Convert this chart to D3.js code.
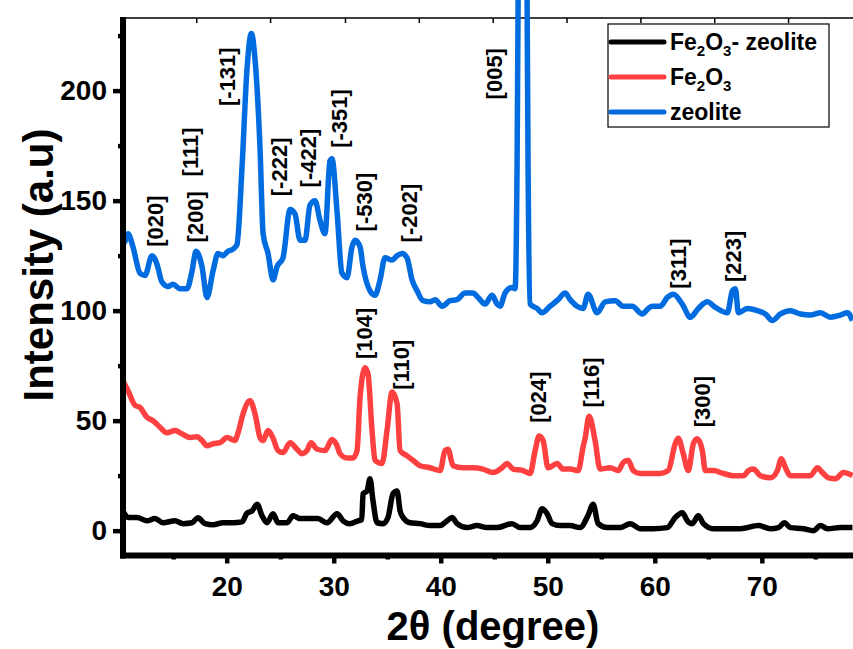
<!DOCTYPE html>
<html lang="en">
<head>
<meta charset="UTF-8">
<title>XRD patterns</title>
<script src="https://cdnjs.cloudflare.com/ajax/libs/d3/7.8.4/d3.min.js"></script>
<style>
    body { margin: 0; background: #fff; }
    svg { display: block; font-family: Arial, "Liberation Sans", sans-serif; }
</style>
</head>
<body>
<svg width="853" height="649"></svg>
<script>
// [2theta, intensity]
const fe2o3Zeolite = [
    [10.31, 9], [10.78, 6], [11.62, 6], [12.55, 4.5], [13.30, 5.5], [14.05, 3.6], [15.17, 4.5],
    [15.92, 3.2], [16.76, 3.6], [17.32, 5.9], [17.97, 3.2], [18.72, 2.7], [19.65, 3.6], [20.59, 3.6],
    [21.43, 4], [21.90, 8], [22.37, 9], [22.84, 12], [23.30, 6.8], [23.77, 3.6], [24.33, 7.7],
    [24.80, 3.6], [25.64, 3.6], [26.20, 6.8], [26.85, 5.5], [27.78, 5.5], [28.53, 5.5], [29.37, 3.6],
    [30.31, 7.7], [30.87, 4.5], [31.52, 3.2], [32.27, 4.5], [32.62, 5], [32.74, 16.8], [33.11, 18],
    [33.39, 23.6], [33.67, 13.6], [34.05, 3.6], [34.61, 3.2], [35.07, 6], [35.54, 16.8], [35.92, 18],
    [36.20, 9], [36.48, 6], [37.13, 3.6], [38.07, 3.2], [39.00, 2.3], [39.94, 2.3], [40.59, 4.5],
    [41.06, 6], [41.52, 3.2], [42.46, 1.4], [43.39, 2.3], [44.33, 1.4], [45.26, 1.4], [46.66, 3.2],
    [47.41, 1.4], [48.35, 1.4], [49.00, 4.5], [49.47, 10], [49.94, 7.7], [50.41, 3.2], [51.15, 2.3],
    [52.09, 2.3], [53.02, 1.4], [53.77, 7], [54.24, 12], [54.71, 3.2], [55.55, 1.4], [56.77, 1.4],
    [57.70, 3.2], [58.64, 0.9], [59.86, 0.9], [61.17, 1.4], [61.91, 6], [62.57, 8.2], [63.04, 4.5],
    [63.50, 3.2], [64.07, 6.8], [64.54, 3.2], [65.47, 0.9], [66.78, 0.9], [68.00, 0.9], [69.68, 2.3],
    [70.80, 0.9], [71.55, 1.4], [72.11, 3.6], [72.67, 1.4], [73.89, 0.9], [74.82, 0], [75.48, 2.3],
    [76.13, 0.9], [77.35, 1.4], [78.47, 1.4]
];

const fe2o3 = [
    [10.31, 68], [10.78, 63.6], [11.43, 57], [11.90, 56], [12.55, 51.5], [13.11, 50], [13.77, 47],
    [14.42, 44.5], [15.17, 45.5], [15.82, 44], [16.58, 42.3], [17.22, 42.7], [17.69, 41], [18.16, 38.6],
    [18.72, 39.5], [19.37, 40], [20.03, 42.3], [20.77, 41], [21.06, 44.5], [21.52, 53], [22.18, 59],
    [22.65, 53], [23.12, 42.3], [23.40, 41], [23.86, 45.5], [24.33, 42], [24.80, 36.4], [25.26, 35.5],
    [25.92, 40], [26.57, 37], [27.04, 35], [27.50, 36.4], [27.88, 40], [28.44, 37], [29.18, 36.4],
    [29.84, 41.4], [30.31, 38.6], [30.59, 35], [31.24, 33], [31.80, 33], [32.18, 36.4], [32.46, 60.5],
    [32.93, 74], [33.21, 71], [33.58, 45.5], [33.86, 32], [34.51, 30.5], [34.98, 45.5], [35.45, 63],
    [35.92, 57.7], [36.20, 36.4], [36.85, 34], [37.41, 32], [38.07, 29.5], [39.00, 28.6], [39.94, 27.3],
    [40.40, 36.4], [40.68, 37], [41.15, 29.5], [42.08, 28.6], [43.02, 28.6], [43.95, 28], [44.89, 26.4],
    [45.73, 28.6], [46.20, 30.5], [46.76, 28], [47.69, 27.3], [48.35, 26], [48.82, 36.4], [49.19, 43],
    [49.56, 41], [50.03, 28.6], [50.87, 30.5], [51.43, 28], [52.09, 28], [52.84, 27.3], [53.30, 38],
    [53.49, 42], [53.86, 52], [54.42, 41], [54.89, 28], [55.83, 28.6], [56.58, 27.3], [57.05, 31],
    [57.51, 32], [57.99, 27.3], [58.64, 26], [59.58, 26], [60.51, 26], [61.26, 27.3], [61.91, 39.5],
    [62.19, 42], [62.66, 35], [63.13, 27.3], [63.60, 39.5], [63.97, 41.8], [64.44, 36.4], [64.72, 27.3],
    [65.47, 27.3], [66.41, 26], [67.34, 25], [68.28, 25], [68.75, 27.3], [69.21, 28], [69.87, 25],
    [70.80, 24], [71.45, 27.3], [71.83, 32.7], [72.21, 28.6], [72.67, 25], [73.61, 25], [74.54, 25],
    [75.20, 28.6], [75.66, 26.4], [76.22, 24], [76.88, 23.6], [77.63, 26.4], [78.47, 25]
];

const zeolite = [
    [10.31, 140], [10.45, 131], [10.78, 135], [11.24, 129], [11.90, 117], [12.36, 116], [13.02, 125],
    [13.49, 121], [13.95, 113], [14.51, 111], [14.98, 112], [15.64, 110], [16.29, 110], [16.76, 118],
    [17.13, 127], [17.69, 120], [18.16, 106], [18.72, 118], [19.19, 126], [19.65, 125], [20.12, 127],
    [20.59, 128], [20.96, 130], [21.43, 165], [21.90, 210], [22.30, 226], [22.65, 214], [23.12, 173],
    [23.40, 135], [23.86, 126], [24.33, 114], [24.70, 120], [25.26, 124], [25.92, 146], [26.38, 144],
    [26.85, 132], [27.32, 132], [27.78, 148], [28.25, 150], [28.72, 141], [29.18, 135], [29.65, 168],
    [29.84, 169], [30.31, 145], [30.77, 117], [31.24, 115], [31.71, 129], [31.99, 132], [32.46, 129],
    [32.74, 120], [33.39, 109], [33.86, 107], [34.33, 114], [34.79, 124], [35.45, 123], [35.92, 125],
    [36.38, 126], [36.85, 124], [37.32, 114], [37.79, 109], [38.35, 104.5], [39.00, 104], [39.47, 105],
    [40.12, 102], [40.87, 104.5], [41.52, 105], [42.27, 108], [43.02, 108], [43.49, 106], [44.14, 103],
    [44.80, 107], [45.26, 103], [45.54, 102], [46.01, 108], [46.66, 110.5], [46.95, 110], [47.13, 165],
    [47.30, 300], [47.45, 390], [47.64, 420], [47.85, 390], [48.00, 300], [48.16, 165], [48.35, 103],
    [49.00, 101], [49.47, 99], [50.22, 102], [50.97, 105], [51.62, 108], [52.09, 105], [52.74, 102],
    [53.30, 101], [53.77, 107.5], [54.61, 99], [55.36, 104], [56.30, 104.5], [57.05, 102], [57.89, 102],
    [58.83, 98.5], [59.39, 101], [59.77, 102], [60.51, 102], [61.17, 106], [61.73, 107.5], [62.57, 103],
    [63.32, 97], [64.07, 101], [64.91, 104], [65.66, 101.5], [66.78, 99], [67.25, 109], [67.53, 110],
    [67.81, 99], [68.65, 101], [69.59, 100], [70.33, 98.5], [70.99, 95.5], [71.74, 98.5], [72.67, 100],
    [73.61, 98.5], [74.54, 98], [75.48, 99], [76.41, 97], [77.35, 98], [78.00, 99], [78.47, 95.5]
];

// Miller index labels: text, 2theta (centre), intensity (bottom of text)
const peakLabels = [
    ["[020]", 13.3, 129], ["[200]", 17.1, 131], ["[111]", 16.6, 161], ["[-131]", 20.1, 193],
    ["[-222]", 24.9, 152], ["[-422]", 27.6, 156], ["[-351]", 30.5, 174], ["[-530]", 32.9, 136],
    ["[-202]", 37.1, 131], ["[005]", 45.0, 196], ["[311]", 62.2, 110], ["[223]", 67.3, 113],
    ["[104]", 32.9, 78], ["[110]", 36.3, 64], ["[024]", 49.1, 49], ["[116]", 54.1, 56], ["[300]", 64.4, 47]
];

const xMajor = [20, 30, 40, 50, 60, 70];
const xMinor = [15, 25, 35, 45, 55, 65, 75];
const yMajor = [0, 50, 100, 150, 200];
const yMinor = [25, 75, 125, 175, 225];
const topTicks = [17.2, 24.1, 31.1, 38.0, 44.9, 51.8, 58.7, 65.6, 72.5];

const series = [
    { name: [["Fe"], ["2", true], ["O"], ["3", true], ["- zeolite"]], data: fe2o3Zeolite, color: "#000000" },
    { name: [["Fe"], ["2", true], ["O"], ["3", true]], data: fe2o3, color: "#ff4040" },
    { name: [["zeolite"]], data: zeolite, color: "#006ce0" }
];

const svg = d3.select("svg");
const plotLeft = 123, plotRight = 853, plotTop = 18, plotBottom = 554;

const x = d3.scaleLinear().domain([10.31, 78.52]).range([plotLeft, plotRight]);
const y = d3.scaleLinear().domain([-10.6, 233]).range([plotBottom, plotTop]);

// top frame with small inward ticks
svg.append("line")
    .attr("x1", plotLeft).attr("x2", plotRight).attr("y1", plotTop).attr("y2", plotTop)
    .attr("stroke", "#000").attr("stroke-width", 1.5);
svg.append("g").selectAll("line").data(topTicks).enter().append("line")
    .attr("x1", d => x(d)).attr("x2", d => x(d))
    .attr("y1", plotTop).attr("y2", plotTop + 5)
    .attr("stroke", "#000").attr("stroke-width", 1.5);

// curves
const line = d3.line()
    .x(d => x(d[0]))
    .y(d => y(d[1]))
    .curve(d3.curveMonotoneX);

svg.append("g").selectAll("path")
    .data(series).enter().append("path")
    .attr("d", d => line(d.data))
    .attr("fill", "none")
    .attr("stroke", d => d.color)
    .attr("stroke-width", 5.5)
    .attr("stroke-linejoin", "round");

// bottom axis
const axisY = plotBottom + 1.5;
const xAxis = svg.append("g").attr("transform", `translate(0,${axisY})`);
xAxis.call(d3.axisBottom(x).tickValues(xMajor).tickSize(8).tickSizeOuter(0).tickPadding(13));
xAxis.append("g").call(d3.axisBottom(x).tickValues(xMinor).tickSize(4).tickSizeOuter(0).tickFormat(""));
xAxis.selectAll(".domain").remove();
xAxis.selectAll(".tick line").attr("stroke", "#000").attr("stroke-width", 4.5);
xAxis.selectAll(".tick text")
    .attr("fill", "#000").attr("font-size", 28).attr("font-weight", "bold")
    .attr("font-family", "Arial, 'Liberation Sans', sans-serif");

// left axis
const yAxis = svg.append("g").attr("transform", `translate(${plotLeft},0)`);
yAxis.call(d3.axisLeft(y).tickValues(yMajor).tickSize(10).tickSizeOuter(0).tickPadding(6));
yAxis.append("g").call(d3.axisLeft(y).tickValues(yMinor).tickSize(5).tickSizeOuter(0).tickFormat(""));
yAxis.selectAll(".domain").remove();
yAxis.selectAll(".tick line").attr("stroke", "#000").attr("stroke-width", 4.5);
yAxis.selectAll(".tick text")
    .attr("fill", "#000").attr("font-size", 28).attr("font-weight", "bold")
    .attr("font-family", "Arial, 'Liberation Sans', sans-serif");

svg.append("line")
    .attr("x1", plotLeft).attr("x2", plotLeft).attr("y1", plotTop - 1).attr("y2", axisY + 3)
    .attr("stroke", "#000").attr("stroke-width", 6);
svg.append("line")
    .attr("x1", plotLeft - 3).attr("x2", plotRight).attr("y1", axisY).attr("y2", axisY)
    .attr("stroke", "#000").attr("stroke-width", 6);

// peak labels
svg.append("g").selectAll("text")
    .data(peakLabels).enter().append("text")
    .attr("transform", d => `translate(${x(d[1])},${y(d[2])}) rotate(-90)`)
    .attr("dy", "0.35em")
    .attr("font-size", 22)
    .attr("font-weight", "bold")
    .attr("fill", "#000")
    .text(d => d[0]);

// axis titles
svg.append("text")
    .attr("transform", "translate(38,265) rotate(-90)")
    .attr("text-anchor", "middle")
    .attr("dy", "0.35em")
    .attr("font-size", 42)
    .attr("font-weight", "bold")
    .text("Intensity (a.u)");

svg.append("text")
    .attr("x", 493).attr("y", 640)
    .attr("text-anchor", "middle")
    .attr("font-size", 40)
    .attr("font-weight", "bold")
    .text("2θ (degree)");

// legend
const legend = svg.append("g").attr("transform", "translate(608,24)");
legend.append("rect")
    .attr("width", 221).attr("height", 103)
    .attr("fill", "#fff").attr("stroke", "#000").attr("stroke-width", 1.2);

const rows = legend.selectAll("g.row").data(series).enter().append("g")
    .attr("class", "row")
    .attr("transform", (d, i) => `translate(0,${18 + i * 35})`);

rows.append("line")
    .attr("x1", 3).attr("x2", 56).attr("y1", 0).attr("y2", 0)
    .attr("stroke", d => d.color).attr("stroke-width", 5).attr("stroke-linecap", "round");

const label = rows.append("text")
    .attr("x", 62).attr("y", 8)
    .attr("font-size", 23).attr("font-weight", "bold").attr("fill", "#000");
label.each(function(d) {
    const t = d3.select(this);
    d.name.forEach(part => {
        const span = t.append("tspan").text(part[0]);
        if (part[1]) span.attr("font-size", 15).attr("dy", 6);
        else if (t.selectAll("tspan").size() > 1) span.attr("dy", -6);
    });
});
</script>
</body>
</html>
